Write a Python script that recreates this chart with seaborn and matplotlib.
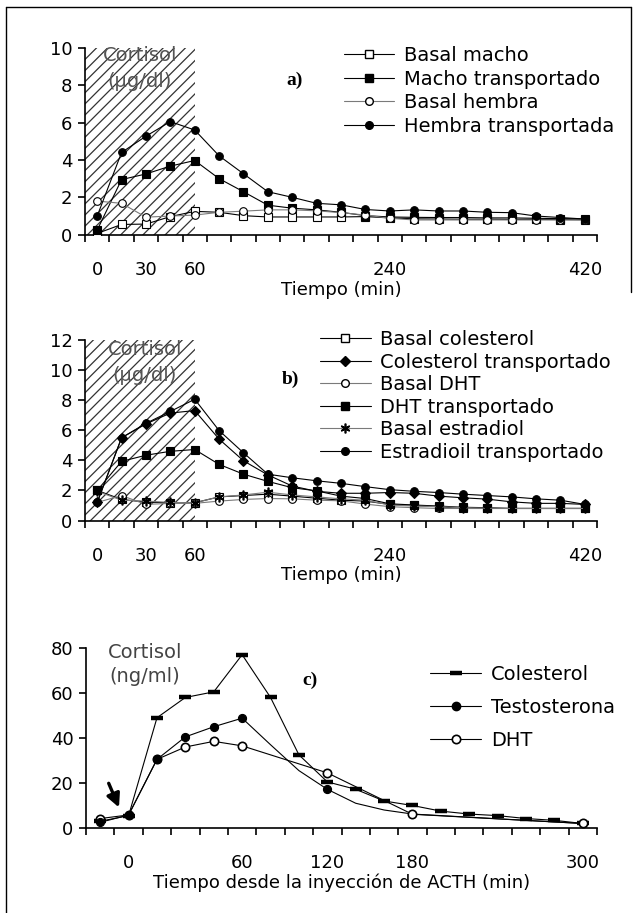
import numpy as np
import matplotlib
matplotlib.use("Agg")
import matplotlib.pyplot as plt
import seaborn as sns
from matplotlib.lines import Line2D

nan = np.nan

# --- panel a) y b): 21 tomas, solo algunas etiquetadas
etiquetas_ab = ["0", "", "30", "", "60", "", "", "", "", "", "", "",
                "240", "", "", "", "", "", "", "", "420"]

basal_macho = [0.07, 0.55, 0.57, 0.97, 1.25, 1.2, 1.02, 0.95, 0.95, 0.95, 0.95,
               0.97, 0.9, 0.85, 0.84, 0.83, 0.83, 0.82, 0.82, 0.81, 0.8]
macho_transp = [0.25, 2.95, 3.25, 3.67, 3.97, 3.0, 2.3, 1.58, 1.42, 1.33, 1.2,
                1.02, 0.95, 0.93, 0.92, 0.92, 0.9, 0.9, 0.88, 0.86, 0.85]
basal_hembra = [1.8, 1.68, 0.94, 1.0, 1.05, 1.2, 1.26, 1.33, 1.33, 1.28, 1.18,
                1.05, 0.88, 0.79, 0.79, 0.79, 0.79, 0.79, 0.79, 0.79, 0.79]
hembra_transp = [1.0, 4.4, 5.27, 6.05, 5.6, 4.22, 3.26, 2.3, 2.0, 1.68, 1.6,
                 1.35, 1.27, 1.33, 1.27, 1.27, 1.2, 1.18, 1.0, 0.92, 0.84]

basal_col = [2.0, 1.4, 1.22, 1.18, 1.18, 1.57, 1.66, 1.75, 1.62, 1.48, 1.35,
             1.29, 1.07, 1.0, 0.92, 0.8, 0.8, 0.8, 0.8, 0.8, 0.8]
col_transp = [1.2, 5.5, 6.42, 7.14, 7.31, 5.41, 3.97, 3.03, 2.29, 1.94, 1.81,
              1.81, 1.86, 1.81, 1.62, 1.51, 1.42, 1.24, 1.14, 1.14, 1.07]
basal_dht = [1.2, 1.66, 1.07, 1.14, 1.14, 1.29, 1.4, 1.46, 1.44, 1.35, 1.31,
             1.09, 0.92, 0.85, 0.8, 0.8, 0.8, 0.8, 0.8, 0.8, 0.8]
dht_transp = [2.0, 3.93, 4.34, 4.6, 4.72, 3.73, 3.08, 2.6, 2.18, 1.97, 1.62,
              1.46, 1.11, 1.03, 0.96, 0.88, 0.85, 0.8, 0.8, 0.8, 0.8]
basal_estr = [1.94, 1.35, 1.29, 1.2, 1.18, 1.57, 1.7, 1.88, 1.7, 1.57, 1.44,
              1.35, 1.03, 0.96, 0.92, 0.85, 0.82, 0.8, 0.8, 0.8, 0.8]
estr_transp = [1.2, 5.5, 6.46, 7.25, 8.06, 5.98, 4.5, 3.08, 2.84, 2.64, 2.47,
               2.25, 2.05, 1.94, 1.86, 1.75, 1.66, 1.57, 1.44, 1.35, 1.07]

# --- panel c): tiempo desde la inyección de ACTH
etiquetas_c = ["", "0", "", "", "", "60", "", "", "120", "", "", "180",
               "", "", "", "", "", "300"]
colesterol = [3.0, 5.5, 49, 58, 60.5, 77, 58, 32.5, 20.5, 17.2, 12, 10,
              7.5, 6.2, 5.5, 4.2, 3.4, 2.0]
testo_linea = [2.5, 5.8, 30.5, 40.5, 45, 48.8, 37, 25.5, 17.2, 11, 8, 6.2,
               nan, nan, nan, nan, nan, 2.0]
testo_puntos = [2.5, 5.8, 30.5, 40.5, 45, 48.8, nan, nan, 17.2, nan, nan, nan,
                nan, nan, nan, nan, nan, nan]
dht_c = [4.2, 5.8, 30.5, 36, 38.5, 36.5, nan, nan, 24.5, nan, nan, 6.1,
         nan, nan, nan, nan, nan, 2.0]

sns.set_style("ticks")
plt.rcParams["font.family"] = ["DejaVu Sans"]
plt.rcParams["hatch.linewidth"] = 0.9
plt.rcParams["hatch.color"] = "#333333"
for k in ["text.color", "axes.labelcolor", "xtick.color", "ytick.color"]:
    plt.rcParams[k] = "black"

fig = plt.figure(figsize=(6.33, 9.13), dpi=100)
ax_a = fig.add_axes([0.1343, 0.7429, 0.8088, 0.2048])
ax_b = fig.add_axes([0.1343, 0.4299, 0.8088, 0.1977])
ax_c = fig.add_axes([0.1359, 0.0931, 0.8072, 0.1972])

GRIS = "#7a7a7a"


def serie(ax, y, marker, relleno, color_linea="black", ms=5.5, mew=0.8):
    x = np.arange(len(y))
    sns.lineplot(x=x, y=y, ax=ax, color=color_linea, lw=0.8, marker=marker,
                 markersize=ms, markerfacecolor=relleno,
                 markeredgecolor="black", markeredgewidth=mew, zorder=3)


def estilo(ax, etiquetas, ymax, paso, xlabel):
    n = len(etiquetas)
    ax.set_xlim(-0.5, n - 0.5)
    ax.set_ylim(0, ymax)
    ax.set_yticks(np.arange(0, ymax + 1, paso))
    ax.set_xticks(np.arange(-0.5, n, 1))
    ax.set_xticklabels([])
    pos = [i for i, e in enumerate(etiquetas) if e]
    ax.set_xticks(pos, minor=True)
    ax.set_xticklabels([etiquetas[i] for i in pos], minor=True)
    ax.tick_params(axis="x", which="minor", length=0, pad=19, labelsize=13)
    ax.tick_params(axis="x", which="major", length=5, width=1.2, direction="out")
    ax.tick_params(axis="y", length=5, width=1.2, labelsize=13, pad=4)
    ax.set_xlabel(xlabel, fontsize=13, labelpad=1)
    ax.set_ylabel("")
    sns.despine(ax=ax)
    for s in ["left", "bottom"]:
        ax.spines[s].set_linewidth(1.2)
        ax.spines[s].set_color("black")


# ---------- a)
ax = ax_a
ax.axvspan(-0.5, 4, facecolor="white", edgecolor="#333333", hatch="///",
           lw=0, zorder=0)
serie(ax, basal_macho, "s", "white")
serie(ax, macho_transp, "s", "black")
serie(ax, basal_hembra, "o", "white", color_linea=GRIS)
serie(ax, hembra_transp, "o", "black")
estilo(ax, etiquetas_ab, 10, 2, "Tiempo (min)")
ax.text(0.107, 0.961, "Cortisol", transform=ax.transAxes, ha="center",
        va="center", fontsize=14, color="#555555")
ax.text(0.107, 0.817, "(µg/dl)", transform=ax.transAxes, ha="center",
        va="center", fontsize=14, color="#555555")
ax.text(0.41, 0.827, "a)", transform=ax.transAxes, ha="center", va="center",
        fontsize=14, fontweight="bold", family="Liberation Serif")
h = [Line2D([], [], color="black", lw=0.8, marker="s", ms=5.5, mfc="white", mec="black"),
     Line2D([], [], color="black", lw=0.8, marker="s", ms=5.5, mfc="black", mec="black"),
     Line2D([], [], color=GRIS, lw=0.8, marker="o", ms=5.5, mfc="white", mec="black"),
     Line2D([], [], color="black", lw=0.8, marker="o", ms=5.5, mfc="black", mec="black")]
ax.legend(h, ["Basal macho", "Macho transportado", "Basal hembra",
              "Hembra transportada"], loc="upper left",
          bbox_to_anchor=(0.505, 1.01), frameon=False, fontsize=14,
          handlelength=2.6, handletextpad=0.5, labelspacing=0.24,
          borderpad=0, borderaxespad=0)

# ---------- b)
ax = ax_b
ax.axvspan(-0.5, 4, facecolor="white", edgecolor="#333333", hatch="///",
           lw=0, zorder=0)
serie(ax, basal_col, "s", "white")
serie(ax, col_transp, "D", "black", ms=5)
serie(ax, basal_dht, "o", "white", color_linea=GRIS)
serie(ax, dht_transp, "s", "black")
serie(ax, basal_estr, (6, 2, 0), "black", color_linea=GRIS, ms=7, mew=1.2)
serie(ax, estr_transp, "o", "black")
estilo(ax, etiquetas_ab, 12, 2, "Tiempo (min)")
ax.text(0.117, 0.945, "Cortisol", transform=ax.transAxes, ha="center",
        va="center", fontsize=14, color="#555555")
ax.text(0.117, 0.806, "(µg/dl)", transform=ax.transAxes, ha="center",
        va="center", fontsize=14, color="#555555")
ax.text(0.402, 0.784, "b)", transform=ax.transAxes, ha="center", va="center",
        fontsize=14, fontweight="bold", family="Liberation Serif")
h = [Line2D([], [], color="black", lw=0.8, marker="s", ms=5.5, mfc="white", mec="black"),
     Line2D([], [], color="black", lw=0.8, marker="D", ms=5, mfc="black", mec="black"),
     Line2D([], [], color=GRIS, lw=0.8, marker="o", ms=5.5, mfc="white", mec="black"),
     Line2D([], [], color="black", lw=0.8, marker="s", ms=5.5, mfc="black", mec="black"),
     Line2D([], [], color=GRIS, lw=0.8, marker=(6, 2, 0), ms=7, mew=1.2, mec="black"),
     Line2D([], [], color="black", lw=0.8, marker="o", ms=5.5, mfc="black", mec="black")]
ax.legend(h, ["Basal colesterol", "Colesterol transportado", "Basal DHT",
              "DHT transportado", "Basal estradiol", "Estradioil transportado"],
          loc="upper left", bbox_to_anchor=(0.459, 1.055), frameon=False,
          fontsize=14, handlelength=2.6, handletextpad=0.5, labelspacing=0.18,
          borderpad=0, borderaxespad=0)

# ---------- c)
ax = ax_c
xc = np.arange(len(colesterol))
sns.lineplot(x=xc, y=colesterol, ax=ax, color="black", lw=0.8, marker="_",
             markersize=9, markeredgewidth=3.2, markeredgecolor="black", zorder=3)
sns.lineplot(x=xc, y=testo_linea, ax=ax, color="black", lw=0.8, zorder=2)
sns.scatterplot(x=xc, y=testo_puntos, ax=ax, color="black", s=34,
                edgecolor="black", linewidth=0.8, zorder=4)
serie(ax, dht_c, "o", "white", ms=6, mew=1.2)
estilo(ax, etiquetas_c, 80, 20, "Tiempo desde la inyección de ACTH (min)")
ax.text(0.115, 0.972, "Cortisol", transform=ax.transAxes, ha="center",
        va="center", fontsize=14, color="#444444")
ax.text(0.115, 0.839, "(ng/ml)", transform=ax.transAxes, ha="center",
        va="center", fontsize=14, color="#444444")
ax.text(0.438, 0.822, "c)", transform=ax.transAxes, ha="center", va="center",
        fontsize=14, fontweight="bold", family="Liberation Serif")
ax.annotate("", xy=(0.7, 8.0), xytext=(0.26, 21),
            arrowprops=dict(arrowstyle="-|>,head_length=0.8,head_width=0.4",
                            color="black", lw=2.4))
h = [Line2D([], [], color="black", lw=0.8, marker="_", ms=9, mew=3.2, mec="black"),
     Line2D([], [], color="black", lw=0.8, marker="o", ms=6, mfc="black", mec="black"),
     Line2D([], [], color="black", lw=0.8, marker="o", ms=6, mfc="white", mec="black", mew=1.2)]
ax.legend(h, ["Colesterol", "Testosterona", "DHT"], loc="upper left",
          bbox_to_anchor=(0.674, 0.905), frameon=False, fontsize=14,
          handlelength=2.6, handletextpad=0.5, labelspacing=0.72,
          borderpad=0, borderaxespad=0)

# marco parcial alrededor de la figura
fig.add_artist(Line2D([0.0095, 0.0095], [0.0, 0.9923], color="black", lw=1,
                      transform=fig.transFigure))
fig.add_artist(Line2D([0.0095, 0.997], [0.9923, 0.9923], color="black", lw=1,
                      transform=fig.transFigure))
fig.add_artist(Line2D([0.997, 0.997], [0.68, 0.9923], color="black", lw=1,
                      transform=fig.transFigure))

fig.savefig("out.png", dpi=100)
